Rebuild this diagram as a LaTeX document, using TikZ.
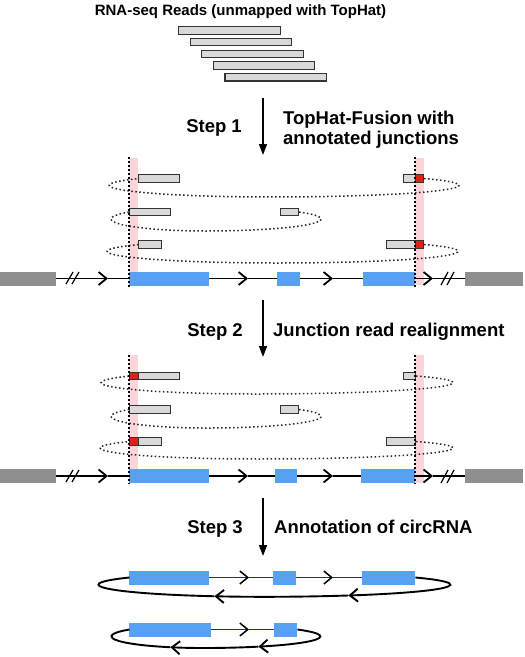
\documentclass[tikz,border=0pt]{standalone}
\usepackage{fontspec}
\setmainfont{Liberation Sans}
\usetikzlibrary{arrows.meta}
\definecolor{exonblue}{RGB}{88,160,240}
\definecolor{flankgray}{RGB}{143,143,143}
\definecolor{juncred}{RGB}{228,32,22}
\definecolor{bandpink}{RGB}{250,214,218}
\definecolor{linknavy}{RGB}{30,50,110}
\tikzset{
    read/.style={draw=black!80, fill=black!15, line width=1.1pt, inner sep=0pt, minimum height=7.5pt, anchor=west},
    junc/.style={read, fill=juncred, minimum width=8pt},
    exon/.style={fill=exonblue, inner sep=0pt, minimum height=14pt, anchor=west},
    flank/.style={fill=flankgray, inner sep=0pt, minimum height=14pt, anchor=west},
    gene/.style={line width=1.8pt},
    chev/.style={gene, -{Straight Barb[length=8pt, width=13pt]}},
    link/.style={line width=1.5pt, draw=linknavy},
    linkchev/.style={link, -{Straight Barb[length=8pt, width=13pt, color=black]}},
    loopline/.style={line width=1.9pt},
    loopchev/.style={loopline, -{Straight Barb[length=8pt, width=13pt]}},
    pair/.style={dash pattern=on 1.5pt off 2.5pt, line width=1.5pt, draw=black!85},
    junction/.style={dash pattern=on 1.5pt off 2.5pt, line width=1.5pt},
    band/.style={fill=bandpink},
    steparrow/.style={-{Triangle[length=11pt, width=8pt]}, line width=1.6pt},
    steplabel/.style={font=\fontsize{18.5}{20}\selectfont\bfseries, inner sep=0pt, align=left}
}

\begin{document}
\begin{tikzpicture}[x=1pt, y=1pt]
    \useasboundingbox (0,0) rectangle (525,-657);

    \node[font=\fontsize{15}{18}\selectfont\bfseries, inner sep=0pt, anchor=base] (title) at (240.5,-15) {RNA-seq Reads (unmapped with TopHat)};
    \foreach \i in {0,...,4}
        \node[read, minimum width=101.5pt] (top\i) at ({178+11.6*\i},{-30.4-11.7*\i}) {};

    \coordinate (s1a) at (263,-98);
    \coordinate (s1b) at (263,-155);
    \draw[steparrow] (s1a) -- (s1b);
    \node[steplabel, anchor=base east] (step1) at (242,-132.7) {Step 1};
    \node[steplabel, anchor=north west] (what1) at (283,-110.5) {TopHat-Fusion with\\annotated junctions};

    % panel 1
    \fill[band] (129,-158) rectangle (138,-285);
    \fill[band] (415,-158) rectangle (424,-285);
    \node[read, minimum width=41pt] (p1a) at (138,-178.5) {};
    \node[read, minimum width=12pt] (p1b) at (403,-178.5) {};
    \node[junc] (p1k1) at (415,-178.5) {};
    \node[read, minimum width=41.5pt] (p1c) at (128.5,-212) {};
    \node[read, minimum width=18pt] (p1d) at (280,-212) {};
    \node[read, minimum width=23pt] (p1e) at (138,-244.5) {};
    \node[read, minimum width=29pt] (p1f) at (386,-244.5) {};
    \node[junc] (p1k2) at (415,-244.5) {};
    \draw[pair] (p1k1.east) arc[start angle=35.5, end angle=-90, x radius=188.5, y radius=11.7]
        arc[start angle=270, end angle=144.5, x radius=161.5, y radius=11.7];
    \draw[pair] (p1d.east) arc[start angle=35.95, end angle=-90, x radius=115.5, y radius=11.97]
        arc[start angle=270, end angle=144.05, x radius=94.5, y radius=11.97];
    \draw[pair] (p1k2.east) arc[start angle=35.71, end angle=-90, x radius=180.8, y radius=11.68]
        arc[start angle=270, end angle=144.29, x radius=170.2, y radius=11.68];

    \node[flank, minimum width=56pt] (f1a) at (0,-278.5) {};
    \node[flank, minimum width=58pt] (f1b) at (465,-278.5) {};
    \node[exon, minimum width=80pt] (p1e1) at (129,-278.5) {};
    \node[exon, minimum width=23pt] (p1e2) at (277,-278.5) {};
    \node[exon, minimum width=52pt] (p1e3) at (363,-278.5) {};
    \coordinate (p1c1) at (108,-278.5);
    \coordinate (p1c2) at (248,-278.5);
    \coordinate (p1c3) at (333,-278.5);
    \coordinate (p1c4) at (433,-278.5);
    \draw[chev] (f1a.east) -- (p1c1);
    \draw[gene] (p1c1) -- (p1e1.west);
    \draw[chev] (p1e1.east) -- (p1c2);
    \draw[gene] (p1c2) -- (p1e2.west);
    \draw[chev] (p1e2.east) -- (p1c3);
    \draw[gene] (p1c3) -- (p1e3.west);
    \draw[chev] (p1e3.east) -- (p1c4);
    \draw[gene] (p1c4) -- (f1b.west);
    \draw[line width=1.2pt] (66,-284) -- (73,-272) (72,-284) -- (79,-272);
    \draw[line width=1.2pt] (441,-285) -- (448,-272) (447,-285) -- (454,-272);
    \draw[junction] (129,-157) -- (129,-287);
    \draw[junction] (415,-157) -- (415,-287);

    \coordinate (s2a) at (263,-300);
    \coordinate (s2b) at (263,-357);
    \draw[steparrow] (s2a) -- (s2b);
    \node[steplabel, anchor=base east] (step2) at (243,-336) {Step 2};
    \node[steplabel, anchor=base west] (what2) at (273,-336) {Junction read realignment};

    % panel 2
    \fill[band] (129,-355) rectangle (138,-483);
    \fill[band] (415,-355) rectangle (424,-483);
    \node[junc, minimum width=9pt] (p2k1) at (129,-376) {};
    \node[read, minimum width=41pt] (p2a) at (138,-376) {};
    \node[read, minimum width=12pt] (p2b) at (403,-376) {};
    \node[read, minimum width=41.5pt] (p2c) at (128.5,-409.5) {};
    \node[read, minimum width=18pt] (p2d) at (280,-409.5) {};
    \node[junc, minimum width=9pt] (p2k2) at (129,-441.5) {};
    \node[read, minimum width=23pt] (p2e) at (138,-441.5) {};
    \node[read, minimum width=29pt] (p2f) at (386,-441.5) {};
    \draw[pair] (p2b.east) arc[start angle=35.66, end angle=-90, x radius=197.3, y radius=11.37]
        arc[start angle=270, end angle=144.34, x radius=154.7, y radius=11.37];
    \draw[pair] (p2d.east) arc[start angle=35.95, end angle=-90, x radius=115.5, y radius=11.66]
        arc[start angle=270, end angle=144.05, x radius=94.5, y radius=11.66];
    \draw[pair] (p2f.east) arc[start angle=35.88, end angle=-90, x radius=194.9, y radius=11.03]
        arc[start angle=270, end angle=144.12, x radius=158.1, y radius=11.03];

    \node[flank, minimum width=56pt] (f2a) at (0,-476) {};
    \node[flank, minimum width=58pt] (f2b) at (465,-476) {};
    \node[exon, minimum width=80pt] (p2e1) at (129,-476) {};
    \node[exon, minimum width=22pt] (p2e2) at (275,-476) {};
    \node[exon, minimum width=54pt] (p2e3) at (361,-476) {};
    \coordinate (p2c1) at (108,-476);
    \coordinate (p2c2) at (248,-476);
    \coordinate (p2c3) at (333,-476);
    \coordinate (p2c4) at (433,-476);
    \draw[chev] (f2a.east) -- (p2c1);
    \draw[gene] (p2c1) -- (p2e1.west);
    \draw[chev] (p2e1.east) -- (p2c2);
    \draw[gene] (p2c2) -- (p2e2.west);
    \draw[chev] (p2e2.east) -- (p2c3);
    \draw[gene] (p2c3) -- (p2e3.west);
    \draw[chev] (p2e3.east) -- (p2c4);
    \draw[gene] (p2c4) -- (f2b.west);
    \draw[line width=1.2pt] (66,-482) -- (73,-470) (72,-482) -- (79,-470);
    \draw[line width=1.2pt] (441,-483) -- (448,-470) (447,-483) -- (454,-470);
    \draw[junction] (129,-355) -- (129,-484);
    \draw[junction] (415,-355) -- (415,-484);

    \coordinate (s3a) at (263,-498);
    \coordinate (s3b) at (263,-556);
    \draw[steparrow] (s3a) -- (s3b);
    \node[steplabel, anchor=base east] (step3) at (243,-533.3) {Step 3};
    \node[steplabel, anchor=base west] (what3) at (274,-533.3) {Annotation of circRNA};

    % panel 3
    \node[exon, minimum width=80pt] (c1a) at (129,-577.5) {};
    \node[exon, minimum width=23pt] (c1b) at (273,-577.5) {};
    \node[exon, minimum width=53pt] (c1c) at (362,-577.5) {};
    \coordinate (c1m1) at (249,-577.5);
    \coordinate (c1m2) at (333,-577.5);
    \draw[linkchev] (c1a.east) -- (c1m1);
    \draw[link] (c1m1) -- (c1b.west);
    \draw[linkchev] (c1b.east) -- (c1m2);
    \draw[link] (c1m2) -- (c1c.west);
    \draw[loopchev] (c1c.east) arc[start angle=35.66, end angle=-63.02, x radius=186.7, y radius=12.2] coordinate (c1k1);
    \draw[loopchev] (c1k1) arc[start angle=-63.02, end angle=-90, x radius=186.7, y radius=12.2]
        arc[start angle=270, end angle=252.65, x radius=165.3, y radius=12.2] coordinate (c1k2);
    \draw[loopline] (c1k2) arc[start angle=252.65, end angle=144.34, x radius=165.3, y radius=12.2];

    \node[exon, minimum width=82pt] (c2a) at (129,-629.5) {};
    \node[exon, minimum width=23pt] (c2b) at (274,-629.5) {};
    \coordinate (c2m1) at (249,-629.5);
    \draw[linkchev] (c2a.east) -- (c2m1);
    \draw[link] (c2m1) -- (c2b.west);
    \draw[loopchev] (c2b.east) arc[start angle=36.5, end angle=-61.9, x radius=117.2, y radius=11.6] coordinate (c2k1);
    \draw[loopchev] (c2k1) arc[start angle=-61.9, end angle=-90, x radius=117.2, y radius=11.6]
        arc[start angle=270, end angle=249.07, x radius=91.8, y radius=11.6] coordinate (c2k2);
    \draw[loopline] (c2k2) arc[start angle=249.07, end angle=143.5, x radius=91.8, y radius=11.6];
\end{tikzpicture}
\end{document}
